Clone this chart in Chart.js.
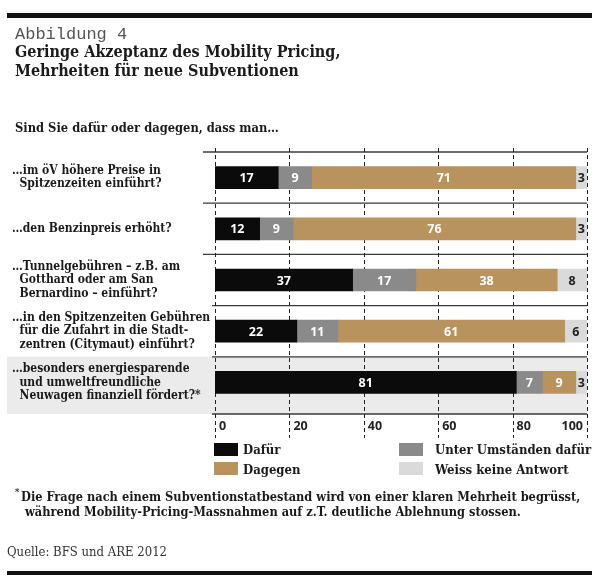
<!DOCTYPE html>
<html>
<head>
<meta charset="utf-8">
<script src="https://cdn.jsdelivr.net/npm/chart.js@4.4.1/dist/chart.umd.min.js"></script>
<style>
  body { margin: 0; background: #fff; }
  #wrap { position: relative; width: 600px; height: 584px; overflow: hidden; }
  #wrap canvas { position: absolute; left: 0; top: 0; }
  .t { position: absolute; white-space: nowrap; color: #1a1a1a; font-family: 'DejaVu Serif Condensed', 'DejaVu Serif', serif; }
  .regel { position: absolute; left: 7px; width: 585px; background: #111; }
  .abb { left: 15px; top: 25px; font: 17px/20px 'Liberation Mono', monospace; color: #555; }
  .titel { left: 15px; top: 42px; font-size: 16px; line-height: 19px; font-weight: bold; }
  .frage { left: 15px; top: 120px; font-size: 12.8px; line-height: 16px; font-weight: bold; }
  .leg { font-size: 13px; line-height: 16px; font-weight: bold; }
  .box { position: absolute; width: 24px; height: 13px; }
  .fuss { left: 21px; top: 489px; font-size: 12.7px; line-height: 15px; font-weight: bold; }
  .stern { left: 15px; top: 487px; font-size: 9px; font-weight: bold; }
  .quelle { left: 7px; top: 544px; font-size: 13px; line-height: 16px; color: #333; }
</style>
</head>
<body>
<div id="wrap">
  <canvas id="grafico" width="600" height="584"></canvas>
  <div class="regel" style="top:13px;height:5px"></div>
  <div class="t abb">Abbildung 4</div>
  <div class="t titel">Geringe Akzeptanz des Mobility Pricing,<br>Mehrheiten für neue Subventionen</div>
  <div class="t frage">Sind Sie dafür oder dagegen, dass man…</div>

  <div class="box" style="left:214px;top:443px;background:#0b0b0b"></div>
  <div class="t leg" style="left:243px;top:442px">Dafür</div>
  <div class="box" style="left:214px;top:462px;background:#b9935e"></div>
  <div class="t leg" style="left:243px;top:462px">Dagegen</div>
  <div class="box" style="left:399px;top:443px;background:#8a8a8a"></div>
  <div class="t leg" style="left:435px;top:442px">Unter Umständen dafür</div>
  <div class="box" style="left:399px;top:462px;background:#dadada"></div>
  <div class="t leg" style="left:435px;top:462px">Weiss keine Antwort</div>

  <div class="t stern">*</div>
  <div class="t fuss">Die Frage nach einem Subventionstatbestand wird von einer klaren Mehrheit begrüsst,<br>&nbsp;während Mobility-Pricing-Massnahmen auf z.T. deutliche Ablehnung stossen.</div>
  <div class="t quelle">Quelle: BFS und ARE 2012</div>
  <div class="regel" style="top:571px;height:4px"></div>
</div>
<script>
// Fragen (Kategorien)
var fragen = [
  ['…im öV höhere Preise in', '  Spitzenzeiten einführt?'],
  '…den Benzinpreis erhöht?',
  ['…Tunnelgebühren – z.B. am', '  Gotthard oder am San', '  Bernardino – einführt?'],
  ['…in den Spitzenzeiten Gebühren', '  für die Zufahrt in die Stadt-', '  zentren (Citymaut) einführt?'],
  ['…besonders energiesparende', '  und umweltfreundliche', '  Neuwagen finanziell fördert?*']
];
// Anteile in Prozent
var dafuer      = [17, 12, 37, 22, 81];
var unterUmst   = [9, 9, 17, 11, 7];
var dagegen     = [71, 76, 38, 61, 9];
var weissNicht  = [3, 3, 8, 6, 3];
var xTicks = [0, 20, 40, 60, 80, 100];

var serif = "'DejaVu Serif Condensed', 'DejaVu Serif', serif";
var sans = "'Open Sans', sans-serif";

var hintergrund = {
  id: 'hintergrund',
  beforeDraw: function(chart){
    var ctx = chart.ctx, a = chart.chartArea, x = chart.scales.x, y = chart.scales.y;
    var band = y.getPixelForValue(1) - y.getPixelForValue(0);
    var unten = a.bottom + 6;
    ctx.save();
    // grauer Hintergrund letzte Zeile
    var t5 = y.getPixelForValue(fragen.length - 1) - band / 2;
    ctx.fillStyle = '#ebebeb';
    ctx.fillRect(7, t5, a.right - 7, unten - t5);
    // Trennlinien
    ctx.strokeStyle = '#3a3a3a';
    ctx.lineWidth = 1.3;
    for (var i = 0; i <= fragen.length; i++) {
      var yy = i < fragen.length ? y.getPixelForValue(i) - band / 2 : unten;
      ctx.beginPath();
      ctx.moveTo(i < 3 ? 203 : 212, yy);
      ctx.lineTo(a.right, yy);
      ctx.stroke();
    }
    // gestrichelte Gitterlinien
    ctx.strokeStyle = '#222';
    ctx.lineWidth = 1;
    ctx.setLineDash([4, 3]);
    xTicks.forEach(function(v){
      var px = Math.round(x.getPixelForValue(v)) + 0.5;
      ctx.beginPath();
      ctx.moveTo(px, a.top - 4);
      ctx.lineTo(px, a.bottom + 30);
      ctx.stroke();
    });
    ctx.restore();
  },
  afterDatasetsDraw: function(chart){
    var ctx = chart.ctx, a = chart.chartArea, x = chart.scales.x;
    ctx.save();
    ctx.font = 'bold 12.5px ' + sans;
    ctx.textBaseline = 'middle';
    ctx.textAlign = 'center';
    chart.data.datasets.forEach(function(ds, i){
      var meta = chart.getDatasetMeta(i);
      meta.data.forEach(function(bar, j){
        var p = bar.getProps(['x', 'base', 'y'], true);
        ctx.fillStyle = i === 3 ? '#222' : '#fff';
        ctx.fillText(ds.data[j], (p.x + p.base) / 2, p.y + 1);
      });
    });
    // x-Achsenbeschriftung
    ctx.fillStyle = '#222';
    xTicks.forEach(function(v, k){
      var px = x.getPixelForValue(v);
      if (k === xTicks.length - 1) {
        ctx.textAlign = 'right';
        ctx.fillText(v, px - 4, a.bottom + 18);
      } else {
        ctx.textAlign = 'left';
        ctx.fillText(v, px + 4, a.bottom + 18);
      }
    });
    ctx.restore();
  }
};

var ctx = document.getElementById('grafico');
var chart = new Chart(ctx, {
  type: 'bar',
  data: {
    labels: fragen,
    datasets: [
      { label: 'Dafür', data: dafuer, backgroundColor: '#0b0b0b' },
      { label: 'Unter Umständen dafür', data: unterUmst, backgroundColor: '#8a8a8a' },
      { label: 'Dagegen', data: dagegen, backgroundColor: '#b9935e' },
      { label: 'Weiss keine Antwort', data: weissNicht, backgroundColor: '#dadada' }
    ]
  },
  options: {
    indexAxis: 'y',
    responsive: false,
    animation: false,
    barThickness: 22,
    layout: { padding: { left: 12, right: 13, top: 152, bottom: 176 } },
    scales: {
      x: { stacked: true, min: 0, max: 100, display: false },
      y: {
        stacked: true,
        grid: { display: false },
        border: { display: false },
        afterFit: function(s){ s.width = 203; },
        ticks: {
          crossAlign: 'far',
          padding: 0,
          color: '#1a1a1a',
          font: { family: serif, size: 12, weight: 'bold', lineHeight: 1.12 }
        }
      }
    },
    plugins: { legend: { display: false }, tooltip: { enabled: false } }
  },
  plugins: [hintergrund]
});
</script>
</body>
</html>
